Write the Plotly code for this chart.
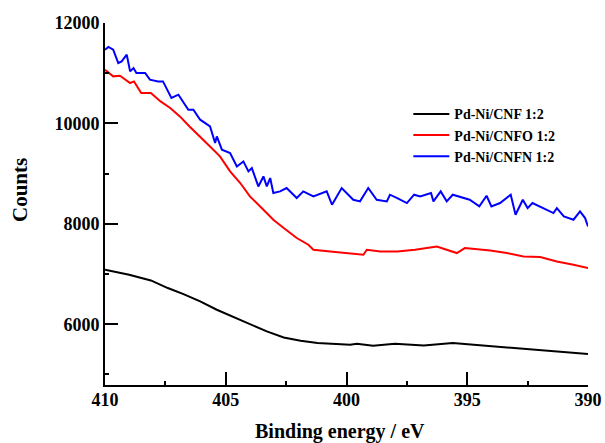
import plotly.graph_objects as go

# Pd-Ni/CNF 1:2 (black)
be_cnf = [410.0, 409.0, 408.1, 407.4, 406.75, 406.06, 405.37, 404.68, 404.0, 403.3, 402.6,
          401.9, 401.2, 400.55, 399.85, 399.57, 398.9, 398.0, 396.8, 395.6, 394.7, 394.05,
          393.36, 392.4, 391.57, 390.74, 390.0]
cnt_cnf = [7086, 6986, 6873, 6721, 6601, 6454, 6289, 6143, 5990, 5857, 5737,
           5671, 5626, 5606, 5592, 5612, 5572, 5612, 5578, 5626, 5592, 5558,
           5538, 5506, 5472, 5438, 5406]

# Pd-Ni/CNFO 1:2 (red)
be_cnfo = [410.0, 409.66, 409.38, 408.96, 408.8, 408.5, 408.1, 407.7, 407.3, 406.9, 406.5,
           406.06, 405.65, 405.24, 404.82, 404.4, 404.0, 403.44, 403.03, 402.6, 402.06,
           401.58, 401.37, 400.68, 399.99, 399.3, 399.16, 398.6, 397.9, 397.16, 396.26,
           395.43, 395.1, 394.05, 393.36, 392.67, 391.98, 391.29, 390.6, 390.0]
cnt_cnfo = [11070, 10937, 10950, 10805, 10837, 10606, 10606, 10438, 10307, 10140, 9940,
            9741, 9542, 9343, 9044, 8813, 8546, 8281, 8082, 7916, 7717,
            7584, 7484, 7450, 7418, 7384, 7484, 7450, 7450, 7484, 7550,
            7418, 7517, 7470, 7418, 7351, 7338, 7251, 7185, 7118]

# Pd-Ni/CNFN 1:2 (blue)
be_cnfn = [410.0, 409.86, 409.66, 409.45, 409.31, 409.1, 408.96, 408.82, 408.7, 408.34,
           408.14, 407.8, 407.6, 407.25, 406.96, 406.55, 406.34, 406.06, 405.65, 405.44,
           405.37, 405.16, 404.82, 404.54, 404.27, 404.06, 403.92, 403.65, 403.44, 403.3,
           403.16, 403.03, 402.75, 402.48, 402.06, 401.79, 401.37, 400.82, 400.6, 400.2,
           399.72, 399.44, 399.1, 398.75, 398.33, 398.2, 397.9, 397.5, 397.2, 396.95,
           396.5, 396.4, 396.1, 395.85, 395.6, 394.9, 394.5, 394.2, 394.0, 393.64,
           393.2, 393.0, 392.7, 392.5, 392.3, 391.85, 391.43, 391.29, 391.0, 390.6,
           390.33, 390.12, 390.0]
cnt_cnfn = [11468, 11522, 11468, 11203, 11235, 11369, 11036, 11103, 11004, 11004,
            10871, 10837, 10837, 10506, 10572, 10273, 10273, 10074, 9940, 9610,
            9741, 9476, 9410, 9143, 9243, 9044, 9110, 8745, 8944, 8745,
            8912, 8613, 8646, 8713, 8514, 8646, 8546, 8646, 8380, 8713,
            8480, 8447, 8713, 8480, 8447, 8580, 8514, 8414, 8580, 8546,
            8613, 8447, 8646, 8447, 8580, 8480, 8348, 8560, 8348, 8414,
            8580, 8182, 8480, 8314, 8414, 8314, 8215, 8314, 8148, 8082,
            8248, 8115, 7948]

x_ticks = [410, 405, 400, 395, 390]
x_labels = ["410", "405", "400", "395", "390"]
y_ticks = [6000, 8000, 10000, 12000]
y_labels = ["6000", "8000", "10000", "12000"]

FONT = "Liberation Serif"

fig = go.Figure()
fig.add_trace(go.Scatter(x=be_cnf, y=cnt_cnf, mode="lines", name="Pd-Ni/CNF 1:2",
                         line=dict(color="black", width=2)))
fig.add_trace(go.Scatter(x=be_cnfo, y=cnt_cnfo, mode="lines", name="Pd-Ni/CNFO 1:2",
                         line=dict(color="red", width=2)))
fig.add_trace(go.Scatter(x=be_cnfn, y=cnt_cnfn, mode="lines", name="Pd-Ni/CNFN 1:2",
                         line=dict(color="blue", width=2)))

axis_common = dict(ticks="inside", ticklen=13, tickwidth=2, tickcolor="black",
                   showline=True, linewidth=2, linecolor="black", showgrid=False,
                   zeroline=False, automargin=False,
                   tickfont=dict(family=FONT, size=18, color="black", weight="bold"))

fig.update_layout(
    width=605, height=443,
    margin=dict(l=105, r=17, t=23, b=58),
    paper_bgcolor="white", plot_bgcolor="white",
    showlegend=True,
    legend=dict(x=0.628, y=0.792, xanchor="left", yanchor="top",
                bgcolor="rgba(0,0,0,0)", borderwidth=0,
                font=dict(family=FONT, size=14, color="black", weight="bold"),
                tracegroupgap=0, itemwidth=36),
    xaxis=dict(range=[410, 390], tickvals=x_ticks, ticktext=x_labels,
               ticklabelstandoff=-3,
               minor=dict(ticks="inside", ticklen=4, tickwidth=2, tickcolor="black",
                          dtick=2.5, tick0=390, showgrid=False),
               **axis_common),
    yaxis=dict(range=[4790, 12000], tickvals=y_ticks, ticktext=y_labels,
               minor=dict(ticks="inside", ticklen=4, tickwidth=2, tickcolor="black",
                          dtick=1000, tick0=0, showgrid=False),
               **axis_common),
    annotations=[
        dict(text="Binding energy / eV", xref="paper", yref="paper",
             x=(340 - 105) / 483, y=-(431 - 385) / 362, xanchor="center", yanchor="middle",
             showarrow=False,
             font=dict(family=FONT, size=20, color="black", weight="bold")),
        dict(text="Counts", xref="paper", yref="paper", textangle=-90,
             x=-(105 - 20) / 483, y=1 - (190 - 23) / 362, xanchor="center", yanchor="middle",
             showarrow=False,
             font=dict(family=FONT, size=21, color="black", weight="bold")),
    ],
)

fig.write_html("out.html")
